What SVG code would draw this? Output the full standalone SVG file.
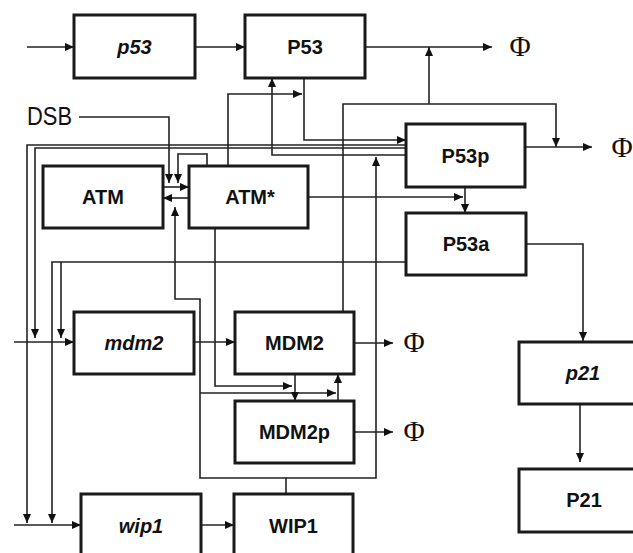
<svg xmlns="http://www.w3.org/2000/svg" width="633" height="553" viewBox="0 0 633 553">
<style>
.box{fill:#fff;stroke:#1a1a1a;stroke-width:3}
.lbl{font-family:"Liberation Sans",Arial,sans-serif;font-weight:bold;font-size:20px;fill:#111;text-anchor:middle}
.it{font-style:italic}
.phi{font-family:"Liberation Serif","Times New Roman",serif;font-size:29px;fill:#111;text-anchor:middle}
.c{fill:none;stroke:#222;stroke-width:1.6}
.a{marker-end:url(#ah)}
</style>
<defs>
<marker id="ah" markerUnits="userSpaceOnUse" markerWidth="10" markerHeight="9" refX="9" refY="4" orient="auto">
<path d="M0,0 L9,4 L0,8 z" fill="#111"/>
</marker>
</defs>
<g id="connectors">
<path class="c a" d="M27,47 H74"/>
<path class="c a" d="M195,47 H245"/>
<path class="c a" d="M365,47 H492"/>
<path class="c a" d="M343,312 V104 H556 V147"/>
<path class="c a" d="M429,104 V47"/>
<path class="c a" d="M304,78 V140 H406"/>
<path class="c a" d="M406,155 H272 V78"/>
<path class="c a" d="M406,145 H27 V523"/>
<path class="c a" d="M406,148 H35 V338"/>
<path class="c a" d="M79,117 H169 V183"/>
<path class="c a" d="M207,166 V154 H178 V183"/>
<path class="c a" d="M163,187 H189"/>
<path class="c a" d="M189,198 H163"/>
<path class="c a" d="M286,494 V478 H200 V299 H175 V207"/>
<path class="c a" d="M286,478 H376 V157"/>
<path class="c a" d="M200,393 H336"/>
<path class="c a" d="M338,401 V374"/>
<path class="c a" d="M295,374 V401"/>
<path class="c a" d="M215,228 V386 H292"/>
<path class="c a" d="M308,197 H463"/>
<path class="c a" d="M465,187 V213"/>
<path class="c a" d="M526,244 H583 V341"/>
<path class="c a" d="M580,404 V462"/>
<path class="c a" d="M406,262 H52 V523"/>
<path class="c a" d="M61,262 V338"/>
<path class="c a" d="M14,342 H74"/>
<path class="c a" d="M194,342 H235"/>
<path class="c a" d="M14,525 H81"/>
<path class="c a" d="M201,525 H234"/>
<path class="c a" d="M228,166 V94 H302"/>
<path class="c a" d="M525,147 H592"/>
<path class="c a" d="M354,343 H393"/>
<path class="c a" d="M354,432 H393"/>
</g>
<g id="DSB"><text x="27" y="125" font-family="Liberation Sans,Arial,sans-serif" font-size="25" textLength="45" lengthAdjust="spacingAndGlyphs" fill="#111">DSB</text></g>
<g id="phi1"><text class="phi" x="520" y="56">Φ</text></g>
<g id="phi2"><text class="phi" x="622" y="157">Φ</text></g>
<g id="phi3"><text class="phi" x="414" y="352">Φ</text></g>
<g id="phi4"><text class="phi" x="414" y="441">Φ</text></g>
<g id="p53_gene"><rect class="box" x="74" y="15" width="121" height="63"/><text class="lbl it" x="134.5" y="54">p53</text></g>
<g id="P53"><rect class="box" x="245" y="15" width="120" height="63"/><text class="lbl" x="305" y="54">P53</text></g>
<g id="P53p"><rect class="box" x="406" y="124" width="119" height="63"/><text class="lbl" x="465.5" y="163">P53p</text></g>
<g id="ATM"><rect class="box" x="43" y="166" width="120" height="62"/><text class="lbl" x="103" y="204">ATM</text></g>
<g id="ATMstar"><rect class="box" x="189" y="166" width="119" height="62"/><text class="lbl" x="250" y="204">ATM*</text></g>
<g id="P53a"><rect class="box" x="406" y="213" width="120" height="62"/><text class="lbl" x="466" y="251">P53a</text></g>
<g id="mdm2_gene"><rect class="box" x="74" y="312" width="120" height="62"/><text class="lbl it" x="134" y="350">mdm2</text></g>
<g id="MDM2"><rect class="box" x="235" y="312" width="119" height="62"/><text class="lbl" x="294.5" y="350">MDM2</text></g>
<g id="MDM2p"><rect class="box" x="235" y="401" width="119" height="62"/><text class="lbl" x="294.5" y="439">MDM2p</text></g>
<g id="wip1_gene"><rect class="box" x="81" y="494" width="120" height="70"/><text class="lbl it" x="141" y="533">wip1</text></g>
<g id="WIP1"><rect class="box" x="234" y="494" width="119" height="70"/><text class="lbl" x="293.5" y="533">WIP1</text></g>
<g id="p21_gene"><rect class="box" x="519" y="342" width="128" height="62"/><text class="lbl it" x="583" y="380">p21</text></g>
<g id="P21"><rect class="box" x="519" y="469" width="128" height="63"/><text class="lbl" x="584" y="507">P21</text></g>
</svg>
